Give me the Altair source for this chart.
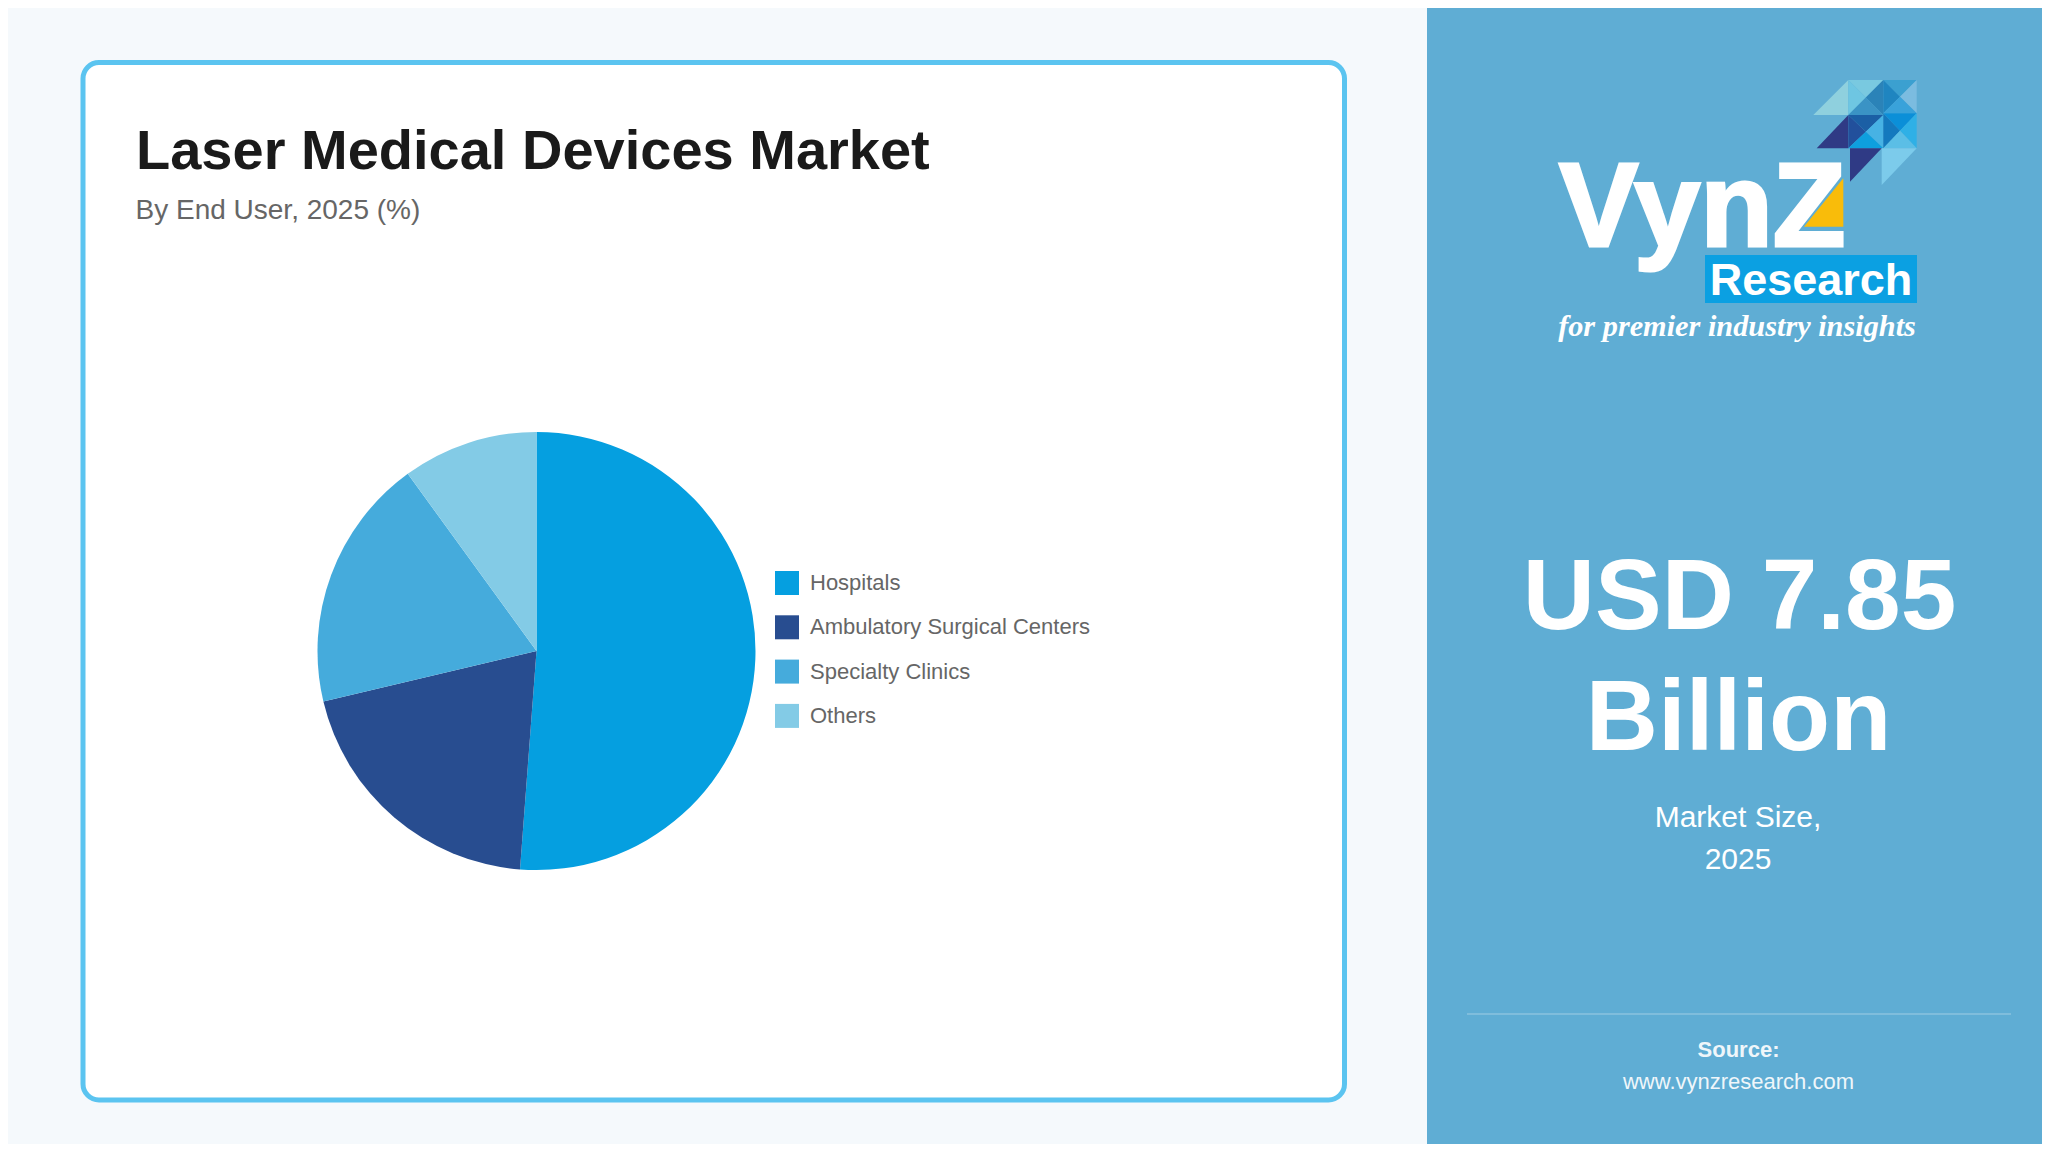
import altair as alt
import pandas as pd

# pie values
segments = ["Hospitals", "Ambulatory Surgical Centers", "Specialty Clinics", "Others"]
shares = [51.2, 20.1, 18.7, 10]
segment_colors = ["#059fe0", "#284d90", "#45abdc", "#83cbe6"]

FONT = "Liberation Sans"
OFF = 8  # page margin, layout numbers below are full page pixels

one_row = pd.DataFrame({"t": [""]})


def box(x, y, x2, y2, fill, **kw):
    return alt.Chart(one_row).mark_rect(fill=fill, **kw).encode(
        x=alt.value(x - OFF), x2=alt.value(x2 - OFF),
        y=alt.value(y - OFF), y2=alt.value(y2 - OFF))


def label(text, x, y, size, color="#ffffff", bold=False, align="center", font=FONT, **kw):
    return alt.Chart(pd.DataFrame({"t": [text]})).mark_text(
        font=font, fontSize=size, color=color, align=align, baseline="alphabetic",
        fontWeight="bold" if bold else "normal", **kw
    ).encode(x=alt.value(x - OFF), y=alt.value(y - OFF), text="t:N")


def tri(points, color):
    # logo pieces, points are in 3x crop coordinates of the logo area
    cmds = ["%s%.1f,%.1f" % ("L" if i else "M", 1450 + px / 3 - OFF, 50 + py / 3 - OFF)
            for i, (px, py) in enumerate(points)]
    return alt.Chart(one_row).mark_point(
        shape="".join(cmds) + "Z", size=4, filled=True, fill=color, opacity=1, strokeWidth=0
    ).encode(x=alt.value(0), y=alt.value(0))


def quad(x0, y0, x1, y1, top, left, right, bottom):
    cx, cy = (x0 + x1) / 2, (y0 + y1) / 2
    return [
        tri([(x0, y0), (x1, y0), (cx, cy)], top),
        tri([(x0, y0), (x0, y1), (cx, cy)], left),
        tri([(x1, y0), (x1, y1), (cx, cy)], right),
        tri([(x0, y1), (x1, y1), (cx, cy)], bottom),
    ]


pie_df = pd.DataFrame({"segment": segments, "share": shares, "order": range(len(segments))})

pie = alt.Chart(pie_df).mark_arc(radius=219).encode(
    theta=alt.Theta("share:Q", stack=True),
    order=alt.Order("order:Q"),
    color=alt.Color(
        "segment:N",
        scale=alt.Scale(domain=segments, range=segment_colors),
        legend=alt.Legend(
            title=None, orient="none", legendX=767, legendY=563, symbolType="square",
            symbolSize=576, symbolStrokeWidth=0, labelFont=FONT, labelFontSize=22,
            labelColor="#666666", labelOffset=11, rowPadding=20.3, labelLimit=400,
        ),
    ),
    x=alt.value(536.5 - OFF),
    y=alt.value(651 - OFF),
)

logo = [
    tri([(1090, 195), (1195, 90), (1195, 195)], "#8fd0de"),
    *quad(1195, 90, 1300, 195, "#79c9e0", "#6ec6e2", "#2b83b8", "#3a93c5"),
    *quad(1300, 90, 1400, 190, "#3ba0d0", "#1f85c0", "#7bbce0", "#39a2da"),
    tri([(1100, 295), (1195, 195), (1195, 295)], "#2f3a85"),
    *quad(1195, 195, 1300, 295, "#1b5fa5", "#22509c", "#47b2e4", "#0e9fde"),
    *quad(1300, 190, 1400, 295, "#0b8fd8", "#1479be", "#2fb0e6", "#5bbee6"),
    tri([(1200, 295), (1295, 295), (1200, 395)], "#2f3a85"),
    tri([(1295, 295), (1400, 295), (1295, 405)], "#7ccbeb"),
]

layers = [
    box(1427, 0, 2050, 1152, "#5fadd4"),
    box(83, 62.5, 1344.5, 1100, "#ffffff", stroke="#5bc4f0", strokeWidth=5, cornerRadius=16),
    label("Laser Medical Devices Market", 136, 169, 56, color="#1a1a1a", bold=True, align="left"),
    label("By End User, 2025 (%)", 135.5, 219, 28, color="#666666", align="left"),
    pie,
    *logo,
    label("VynZ", 1559, 246, 119, bold=True, align="left", stroke="#ffffff", strokeWidth=3),
    tri([(1180, 385), (1180, 530), (1062, 530)], "#f9bc0a"),
    box(1705, 255, 1917, 303, "#0ba0e2"),
    label("Research", 1811, 295, 45, bold=True),
    label("for premier industry insights", 1737, 336, 30.3, bold=True, font="Liberation Serif", fontStyle="italic"),
    label("USD 7.85", 1739.5, 629, 100, bold=True),
    label("Billion", 1738.5, 750, 100, bold=True),
    label("Market Size,", 1738, 827, 30),
    label("2025", 1738, 869, 30),
    box(1467, 1013, 2011, 1015, "#ffffff", opacity=0.2),
    label("Source:", 1738.5, 1057, 22, bold=True, opacity=0.9),
    label("www.vynzresearch.com", 1738.5, 1089, 22, opacity=0.9),
]

chart = alt.layer(*layers).properties(
    width=2034,
    height=1136,
    padding=0,
    background="#f5f9fc",
    autosize=alt.AutoSizeParams(type="none"),
).configure_view(stroke=None)

chart.save("out.html", embed_options={"renderer": "svg", "actions": False})
